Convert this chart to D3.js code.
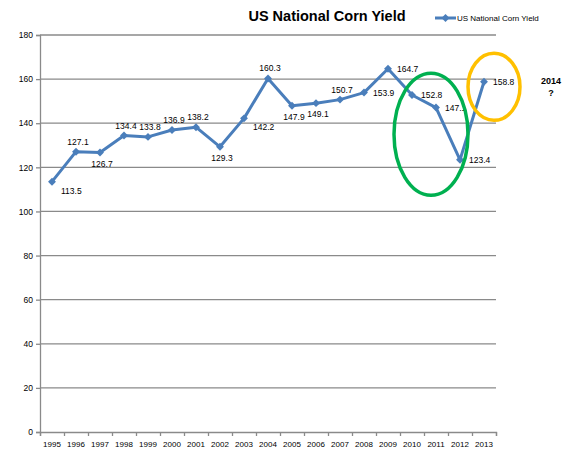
<!DOCTYPE html>
<html>
<head>
<meta charset="utf-8">
<script src="https://cdn.jsdelivr.net/npm/d3@7"></script>
<style>
  body { margin: 0; background: #fff; }
  svg { display: block; font-family: "Liberation Sans", Arial, sans-serif; }
</style>
</head>
<body>
<div id="chart"></div>
<script>
//Datos
const years = ['1995','1996','1997','1998','1999','2000','2001','2002','2003','2004','2005','2006','2007','2008','2009','2010','2011','2012','2013'];
const yieldValues = [113.5, 127.1, 126.7, 134.4, 133.8, 136.9, 138.2, 129.3, 142.2, 160.3, 147.9, 149.1, 150.7, 153.9, 164.7, 152.8, 147.1, 123.4, 158.8];
//Posición de cada etiqueta: a = arriba, b = abajo, r = derecha, br = abajo derecha
const labelPlace = ['br','a','b','a','a','a','a','b','br','a','b','b','a','r','r','r','r','r','r'];
const yTicks = [0, 20, 40, 60, 80, 100, 120, 140, 160, 180];
const seriesName = 'US National Corn Yield';

const COLOR_LINE = '#4A7EBB',
COLOR_GRID = '#8A8A8A',
COLOR_GREEN = '#00B050',
COLOR_ORANGE = '#FFC000';

let W = 575, H = 449;
let margin = {top: 35, right: 79, bottom: 17, left: 40},
    width = W - margin.left - margin.right,
    height = H - margin.top - margin.bottom;

let svg = d3.select('#chart').append('svg')
    .attr('width', W)
    .attr('height', H);

let g = svg.append('g')
    .attr('transform', 'translate(' + margin.left + ',' + margin.top + ')');

let x = d3.scaleBand().domain(years).range([0, width]).padding(0);
let xc = function(d) { return x(d) + x.bandwidth() / 2; };
let xEdges = d3.scaleLinear().domain([0, years.length]).range([0, width]);

let y = d3.scaleLinear().domain([0, 180]).range([height, 0]);

//Rejilla
g.append('g').selectAll('line')
    .data(yTicks.filter(d => d > 0))
    .enter().append('line')
    .attr('x1', 0).attr('x2', width)
    .attr('y1', d => y(d)).attr('y2', d => y(d))
    .attr('stroke', COLOR_GRID).attr('stroke-width', 1.3);

//Eje Y
let yAxis = g.append('g')
    .call(d3.axisLeft(y).tickValues(yTicks).tickSize(4).tickPadding(3));
yAxis.select('.domain').attr('stroke', COLOR_GRID).attr('stroke-width', 1.3);
yAxis.selectAll('.tick line').attr('stroke', COLOR_GRID).attr('stroke-width', 1.3);
yAxis.selectAll('text').attr('font-size', '8.5px').attr('fill', '#000');

//Eje X
let xAxis = g.append('g')
    .attr('transform', 'translate(0,' + height + ')')
    .call(d3.axisBottom(xEdges).ticks(years.length).tickSize(4).tickFormat(''));
xAxis.select('.domain').attr('stroke', COLOR_GRID).attr('stroke-width', 1.3);
xAxis.selectAll('.tick line').attr('stroke', COLOR_GRID).attr('stroke-width', 1.3);

g.append('g').selectAll('text')
    .data(years)
    .enter().append('text')
    .attr('x', d => xc(d))
    .attr('y', height + 15)
    .attr('text-anchor', 'middle')
    .attr('font-size', '8px')
    .text(d => d);

//Línea
let data = years.map((d, i) => ({year: d, value: yieldValues[i], place: labelPlace[i]}));

g.append('path')
    .datum(data)
    .attr('fill', 'none')
    .attr('stroke', COLOR_LINE)
    .attr('stroke-width', 3)
    .attr('stroke-linejoin', 'round')
    .attr('d', d3.line().x(d => xc(d.year)).y(d => y(d.value)));

g.append('g').selectAll('path')
    .data(data)
    .enter().append('path')
    .attr('transform', d => 'translate(' + xc(d.year) + ',' + y(d.value) + ')')
    .attr('d', d3.symbol().type(d3.symbolDiamond2).size(40))
    .attr('fill', COLOR_LINE);

//Etiquetas
g.append('g').selectAll('text')
    .data(data)
    .enter().append('text')
    .attr('x', function(d) {
        if (d.place === 'r' || d.place === 'br') return xc(d.year) + 9;
        return xc(d.year) + 2;
    })
    .attr('y', function(d) {
        let py = y(d.value);
        if (d.place === 'a') return py - 7;
        if (d.place === 'b') return py + 14;
        if (d.place === 'br') return py + 12;
        return py + 3;
    })
    .attr('text-anchor', d => (d.place === 'r' || d.place === 'br') ? 'start' : 'middle')
    .attr('font-size', '8.5px')
    .text(d => d.value.toFixed(1));

//Elipses
g.append('ellipse')
    .attr('cx', xc('2011') - 5)
    .attr('cy', y(135))
    .attr('rx', 37).attr('ry', 61)
    .attr('fill', 'none')
    .attr('stroke', COLOR_GREEN)
    .attr('stroke-width', 3.5);

g.append('ellipse')
    .attr('cx', xc('2013') + 10)
    .attr('cy', y(156.5))
    .attr('rx', 26).attr('ry', 33.5)
    .attr('fill', 'none')
    .attr('stroke', COLOR_ORANGE)
    .attr('stroke-width', 3.5);

//2014 ?
let q = g.append('text')
    .attr('x', xc('2013') + 67)
    .attr('y', y(158.8) + 2)
    .attr('text-anchor', 'middle')
    .attr('font-size', '9px')
    .attr('font-weight', 'bold');
q.append('tspan').attr('x', xc('2013') + 67).text('2014');
q.append('tspan').attr('x', xc('2013') + 67).attr('dy', 12).text('?');

//Título
svg.append('text')
    .attr('x', 327)
    .attr('y', 21)
    .attr('text-anchor', 'middle')
    .attr('font-size', '14.5px')
    .attr('font-weight', 'bold')
    .text(seriesName);

//Leyenda
let legend = svg.append('g').attr('transform', 'translate(435,18)');
legend.append('line')
    .attr('x1', 0).attr('x2', 21)
    .attr('stroke', COLOR_LINE).attr('stroke-width', 3);
legend.append('path')
    .attr('transform', 'translate(10.5,0)')
    .attr('d', d3.symbol().type(d3.symbolDiamond2).size(40))
    .attr('fill', COLOR_LINE);
legend.append('text')
    .attr('x', 22)
    .attr('y', 3)
    .attr('font-size', '8px')
    .text(seriesName);
</script>
</body>
</html>
